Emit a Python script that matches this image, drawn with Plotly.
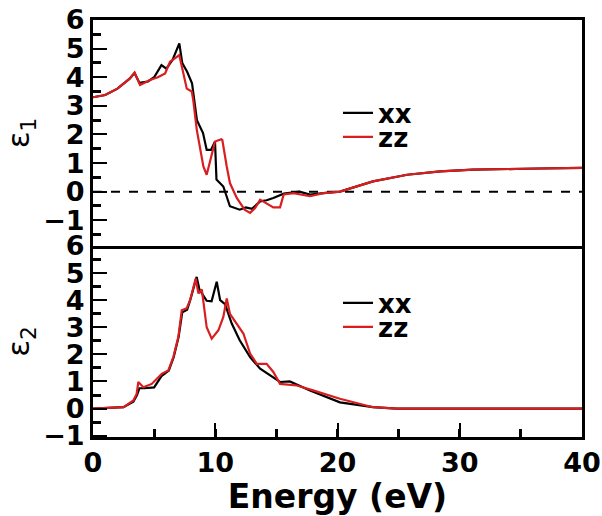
import plotly.graph_objects as go

# ---- data: epsilon_1 (real part) ----
e1_xx_E = [0, 1, 2, 3, 3.4, 3.8, 4.5, 5.0, 5.6, 6.0, 6.5, 7.06, 7.3, 7.7, 8.1, 8.5, 9.0, 9.3, 9.65, 9.98,
           10.1, 10.66, 11.2, 12.0, 12.5, 13.0, 13.67, 14.2, 14.75, 15.6, 16.9, 17.75, 18.85, 20.2, 22.9,
           25.7, 28.4, 31.1, 35.2, 40]
e1_xx_v = [3.3, 3.38, 3.6, 3.95, 4.15, 3.8, 3.85, 4.0, 4.42, 4.3, 4.6, 5.18, 4.5, 4.19, 3.79, 2.5, 2.05, 1.46,
           1.46, 1.75, 0.42, 0.18, -0.51, -0.63, -0.55, -0.6, -0.34, -0.3, -0.22, -0.07, 0.0, -0.1, -0.05,
           0.0, 0.36, 0.59, 0.71, 0.77, 0.8, 0.83]

e1_zz_E = [0, 1, 2, 3, 3.4, 3.85, 4.66, 5.3, 5.9, 6.3, 7.06, 7.67, 8.08, 8.2, 8.49, 9.03, 9.3, 9.7, 9.98,
           10.5, 10.58, 10.94, 11.2, 11.76, 12.4, 12.85, 13.26, 13.67, 14.2, 14.75, 15.3, 15.6, 16.4,
           17.75, 18.85, 20.2, 22.9, 25.7, 28.4, 31.1, 35.2, 40]
e1_zz_v = [3.3, 3.38, 3.6, 3.95, 4.16, 3.73, 3.9, 4.0, 4.13, 4.54, 4.77, 3.6, 3.5, 3.2, 2.16, 0.88, 0.59,
           1.23, 1.75, 1.83, 1.8, 0.88, 0.3, -0.22, -0.63, -0.74, -0.57, -0.28, -0.4, -0.55, -0.55, -0.1,
           -0.05, -0.16, -0.05, 0.0, 0.36, 0.59, 0.71, 0.77, 0.8, 0.83]

# ---- data: epsilon_2 (imaginary part) ----
e2_xx_E = [0, 2, 2.5, 3.3, 3.6, 3.8, 4.2, 5.0, 5.6, 6.2, 6.6, 7.0, 7.3, 7.7, 7.95, 8.48, 8.7, 9.3, 9.7,
           10.12, 10.4, 10.8, 11.35, 12.0, 12.85, 13.67, 14.48, 15.3, 16.1, 17.75, 20.2, 22.9, 24.85, 40]
e2_xx_v = [0, 0.02, 0.05, 0.25, 0.5, 0.75, 0.75, 0.78, 1.2, 1.4, 1.9, 2.64, 3.55, 3.65, 4.0, 4.86, 4.4,
           3.98, 3.96, 4.68, 4.0, 3.85, 3.14, 2.52, 1.9, 1.47, 1.22, 0.98, 1.0, 0.67, 0.23, 0.05, 0.0, 0.0]

e2_zz_E = [0, 2, 2.5, 3.3, 3.57, 3.71, 4.12, 4.8, 5.62, 6.16, 6.57, 6.98, 7.26, 7.66, 7.94, 8.4, 8.62, 8.9,
           9.3, 9.71, 10.26, 10.66, 10.94, 11.2, 11.76, 12.3, 12.85, 13.4, 14.2, 14.75, 15.3, 16.67, 18.0,
           20.2, 22.9, 24.85, 40]
e2_zz_v = [0, 0.02, 0.05, 0.3, 0.54, 0.98, 0.79, 0.91, 1.28, 1.41, 1.9, 2.64, 3.63, 3.7, 4.0, 4.8, 4.25,
           4.4, 3.0, 2.58, 2.89, 3.38, 4.06, 3.5, 3.14, 2.77, 2.03, 1.65, 1.65, 1.35, 0.91, 0.85, 0.67, 0.36,
           0.05, 0.0, 0.0]

series_names = ["xx", "zz"]
y_ticks = [-1, 0, 1, 2, 3, 4, 5, 6]
x_ticks = [0, 10, 20, 30, 40]

BLACK = "#000000"
RED = "#d81e1e"
FONT = "DejaVu Sans, Arial, sans-serif"

fig = go.Figure()
lw = 2.2
# top panel (xaxis2 / yaxis2)
fig.add_trace(go.Scatter(x=e1_xx_E, y=e1_xx_v, mode="lines", name=series_names[0],
                         line=dict(color=BLACK, width=lw), xaxis="x2", yaxis="y2", legend="legend"))
fig.add_trace(go.Scatter(x=e1_zz_E, y=e1_zz_v, mode="lines", name=series_names[1],
                         line=dict(color=RED, width=lw), xaxis="x2", yaxis="y2", legend="legend2"))
# bottom panel
fig.add_trace(go.Scatter(x=e2_xx_E, y=e2_xx_v, mode="lines", name=series_names[0],
                         line=dict(color=BLACK, width=lw), xaxis="x", yaxis="y", legend="legend3"))
fig.add_trace(go.Scatter(x=e2_zz_E, y=e2_zz_v, mode="lines", name=series_names[1],
                         line=dict(color=RED, width=lw), xaxis="x", yaxis="y", legend="legend4"))

split = 0.458
PLOT_TOP, PLOT_H, PLOT_L, PLOT_W = 20, 417, 93, 489


def py(px):
    return (PLOT_TOP + PLOT_H - px) / PLOT_H


def px_(x):
    return (x - PLOT_L) / PLOT_W


tickfont = dict(family=FONT, size=27, color="black", weight="bold")
legfont = dict(family=FONT, size=26, color="black", weight="bold")
eps_font = dict(family=FONT, size=31, color="black")


def leg(ycenter):
    return dict(x=px_(338), y=py(ycenter), xanchor="left", yanchor="middle", bgcolor="rgba(0,0,0,0)",
                font=legfont, itemwidth=30, borderwidth=0)


fig.update_layout(
    width=602, height=516,
    margin=dict(l=93, r=20, t=20, b=79, autoexpand=False),
    paper_bgcolor="white", plot_bgcolor="white",
    showlegend=True,
    xaxis=dict(domain=[0, 1], range=[0, 40], tickvals=x_ticks, ticks="inside", ticklen=14, tickwidth=1.5,
               minor=dict(dtick=5, ticks="inside", ticklen=8, tickwidth=2.5, tickcolor="black"),
               tickcolor="black", tickfont=tickfont, anchor="y",
               showline=True, linecolor="black", linewidth=3, mirror=False, showgrid=False, zeroline=False,
               title=dict(text="Energy (eV)", font=dict(family=FONT, size=33, color="black", weight="bold"),
                          standoff=2)),
    yaxis=dict(domain=[0, split], range=[-1.05, 6], tickvals=y_ticks, ticks="inside", ticklen=14,
               tickwidth=1.5, tickcolor="black",
               minor=dict(tickvals=[-0.5, 0.5, 1.5, 2.5, 3.5, 4.5, 5.5], ticks="inside", ticklen=8,
                          tickwidth=2.5, tickcolor="black"),
               tickfont=tickfont, anchor="x",
               title=dict(text="ε<sub>2</sub>", font=eps_font, standoff=16),
               showline=True, linecolor="black", linewidth=3, mirror=True, showgrid=False, zeroline=False),
    xaxis2=dict(domain=[0, 1], range=[0, 40], showticklabels=False, ticks="", anchor="y2", matches="x",
                showline=True, linecolor="black", linewidth=3, mirror=True, showgrid=False, zeroline=False),
    yaxis2=dict(domain=[split, 1], range=[-1.9, 6], tickvals=y_ticks, ticks="inside", ticklen=14,
                tickwidth=1.5, tickcolor="black",
                minor=dict(tickvals=[-1.5, -0.5, 0.5, 1.5, 2.5, 3.5, 4.5, 5.5], ticks="inside", ticklen=8,
                           tickwidth=2.5, tickcolor="black"),
                tickfont=tickfont, anchor="x2",
                title=dict(text="ε<sub>1</sub>", font=eps_font, standoff=16),
                showline=True, linecolor="black", linewidth=3, mirror=True, showgrid=False, zeroline=False),
    legend=leg(113),
    legend2=leg(137),
    legend3=leg(303),
    legend4=leg(327),
)

# dashed zero line in top panel
fig.add_shape(type="line", xref="x2 domain", yref="y2", x0=0, x1=1, y0=0, y1=0,
              line=dict(color="black", width=2, dash="dash"), layer="below")

fig.write_html("out.html")
